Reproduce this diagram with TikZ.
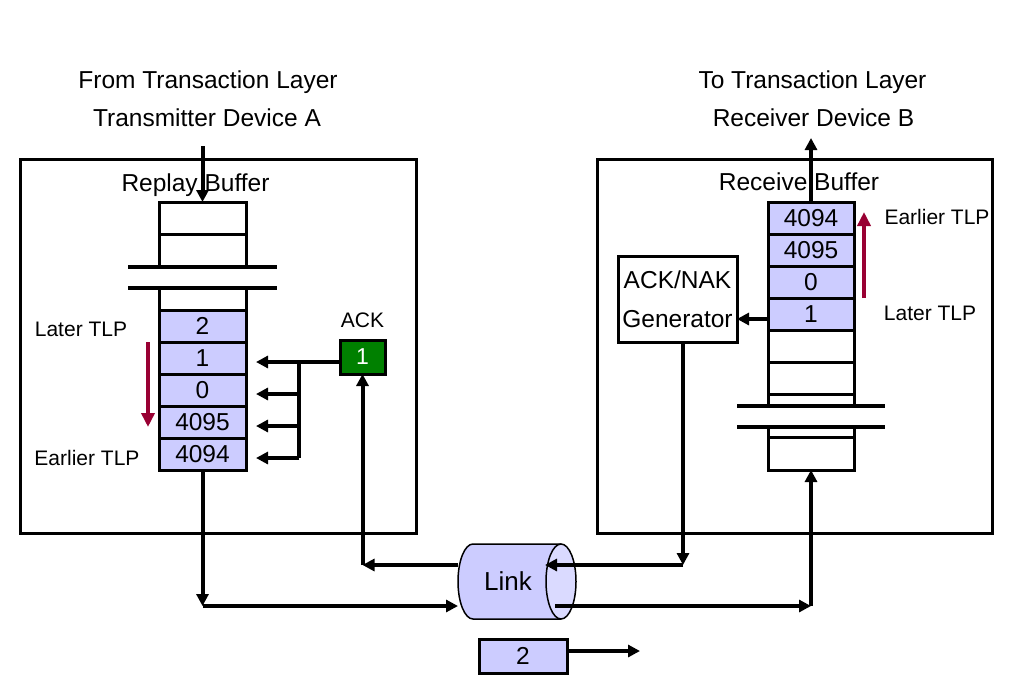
\documentclass[tikz,border=0pt]{standalone}
\usepackage{fontspec}
\setmainfont{Liberation Sans}
\usetikzlibrary{arrows.meta}
\definecolor{cellblue}{RGB}{204,204,255}
\definecolor{ackgreen}{RGB}{0,128,0}
\definecolor{tlpred}{RGB}{153,0,51}
\definecolor{linkend}{RGB}{218,218,255}
\begin{document}
\begin{tikzpicture}[x=1pt,y=-1pt,
  big/.style={font=\fontsize{24.5}{29}\selectfont},
  small/.style={font=\fontsize{21}{25}\selectfont},
  lbl/.style={inner sep=0pt,outer sep=0pt,text depth=0pt},
  cell/.style={draw,line width=3pt,minimum width=87pt,minimum height=32pt,inner sep=0pt,outer sep=0pt,big,text depth=0pt},
  bcell/.style={cell,fill=cellblue},
  frame/.style={draw,line width=3pt,inner sep=0pt,outer sep=0pt},
  conn/.style={line width=4pt,-{Triangle[length=12pt,width=12pt]}},
  wire/.style={line width=4pt},
  wall/.style={line width=3pt},
  brk/.style={line width=3.5pt},
  tlp/.style={line width=4.5pt,draw=tlpred,-{Triangle[length=14pt,width=13pt]}}
]
\useasboundingbox[fill=white] (0,0) rectangle (1024,696);

% titles
\node[lbl,big] (tA1) at (208,80) {From Transaction Layer};
\node[lbl,big] (tA2) at (207,118) {Transmitter Device A};
\node[lbl,big] (tB1) at (812.5,79.5) {To Transaction Layer};
\node[lbl,big] (tB2) at (813.5,117.5) {Receiver Device B};

% device frames
\node[frame,minimum width=396pt,minimum height=374pt] (devA) at (218,346) {};
\node[frame,minimum width=395pt,minimum height=374pt] (devB) at (794.5,346) {};

\node[lbl,big] (rplab) at (195.5,183) {Replay Buffer};
\node[lbl,big] (rcvlab) at (799,182) {Receive Buffer};

% ---------- replay buffer ----------
\node[cell] (e1) at (202.5,218) {};
\node[cell,minimum height=33pt] (e2) at (202.5,250.5) {};
\coordinate (bl1a) at (128,267); \coordinate (bl1b) at (277,267);
\coordinate (bl2a) at (128,288); \coordinate (bl2b) at (277,288);
\draw[brk] (bl1a) -- (bl1b);
\draw[brk] (bl2a) -- (bl2b);
\node[bcell] (c2) at (202.5,326) {2};
\node[bcell] (c1) at (202.5,358) {1};
\node[bcell] (c0) at (202.5,390) {0};
\node[bcell] (c4095) at (202.5,422) {4095};
\node[bcell] (c4094) at (202.5,454) {4094};
\draw[wall] (c2.north west) -- (c2.north west |- bl2a);
\draw[wall] (c2.north east) -- (c2.north east |- bl2a);

\node[lbl,small] (laterA) at (81,329) {Later TLP};
\node[lbl,small] (earlierA) at (87,458) {Earlier TLP};
\coordinate (tlpA1) at (148,342); \coordinate (tlpA2) at (148,427);
\draw[tlp] (tlpA1) -- (tlpA2);

% ACK
\node[lbl,small] (acklab) at (362.5,320) {ACK};
\node[frame,fill=ackgreen,text=white,minimum width=45pt,minimum height=34pt,font=\fontsize{23}{27}\selectfont] (ack) at (362.5,357) {1};
\coordinate (j1) at (299,362);
\coordinate (j2) at (299,394);
\coordinate (j3) at (299,426);
\coordinate (j4) at (299,458);
\draw[wire] (ack.west |- j1) -- (j1);
\draw[wire] (j1) -- (j4);
\draw[conn,shorten >=10pt] (j1) -- (j1 -| c1.east);
\draw[conn,shorten >=10pt] (j2) -- (j2 -| c0.east);
\draw[conn,shorten >=10pt] (j3) -- (j3 -| c4095.east);
\draw[conn,shorten >=10pt] (j4) -- (j4 -| c4094.east);

% input arrow
\coordinate (inTop) at (202.5,146);
\draw[conn] (inTop) -- (e1.north);

% ---------- receive buffer ----------
\node[bcell,minimum width=86pt] (r4094) at (811,218) {4094};
\node[bcell,minimum width=86pt] (r4095) at (811,250) {4095};
\node[bcell,minimum width=86pt] (r0) at (811,282) {0};
\node[bcell,minimum width=86pt] (r1) at (811,314) {1};
\node[cell,minimum width=86pt] (re1) at (811,346) {};
\node[cell,minimum width=86pt] (re2) at (811,378) {};
\coordinate (br1a) at (737,406); \coordinate (br1b) at (885,406);
\coordinate (br2a) at (737,427); \coordinate (br2b) at (885,427);
\draw[wall] (re2.south west) -- (re2.south west |- br1a);
\draw[wall] (re2.south east) -- (re2.south east |- br1a);
\node[cell,minimum width=86pt,minimum height=33pt] (re3) at (811,453.5) {};
\draw[wall] (re3.north west) -- (re3.north west |- br2a);
\draw[wall] (re3.north east) -- (re3.north east |- br2a);
\draw[brk] (br1a) -- (br1b);
\draw[brk] (br2a) -- (br2b);

\node[lbl,small] (earlierB) at (937,217) {Earlier TLP};
\node[lbl,small] (laterB) at (930,313) {Later TLP};
\coordinate (tlpB1) at (864,298); \coordinate (tlpB2) at (864,212);
\draw[tlp] (tlpB1) -- (tlpB2);

% output arrow
\coordinate (outTop) at (811,138);
\draw[conn] (r4094.north) -- (outTop);

% ACK/NAK generator
\node[frame,minimum width=119pt,minimum height=86pt,align=center,font=\fontsize{24.5}{39}\selectfont] (gen) at (677.5,299) {ACK/NAK\\Generator};
\coordinate (g1) at (768,319);
\draw[conn] (g1) -- (g1 -| gen.east);

% ---------- link ----------
\fill[cellblue] (561,544) -- (473,544) arc[start angle=270,end angle=90,x radius=15,y radius=37.5]
  -- (561,619) arc[start angle=90,end angle=-90,x radius=15,y radius=37.5] -- cycle;
\draw[line width=1.5pt] (561,544) -- (473,544) arc[start angle=270,end angle=90,x radius=15,y radius=37.5] -- (561,619);
\draw[line width=1.5pt,fill=linkend] (561,581.5) ellipse[x radius=15,y radius=37.5];
\node[lbl,font=\fontsize{26}{30}\selectfont] (link) at (508,581) {Link};

\coordinate (linkLup) at (458,565);
\coordinate (linkLdn) at (458,606);
\coordinate (linkRup) at (545,565);
\coordinate (linkRdn) at (555,606);

\coordinate (cA) at (202.5,606);
\coordinate (cK) at (362.5,565);
\coordinate (cG) at (683,565);
\coordinate (cR) at (811,606);

\draw[conn] (c4094.south) -- (cA);
\draw[conn] (cA) -- (linkLdn);
\draw[conn] (linkLup) -- (cK);
\draw[conn] (cK) -- (ack.south);
\draw[conn] (gen.south -| cG) -- (cG);
\draw[conn] (cG) -- (linkRup);
\draw[conn] (linkRdn) -- (cR);
\draw[conn] (cR) -- (re3.south);

% packet 2
\node[bcell,minimum width=88pt,minimum height=34pt] (pkt) at (523,656) {2};
\coordinate (pktEnd) at (640,651);
\draw[conn] (pkt.east |- pktEnd) -- (pktEnd);
\end{tikzpicture}
\end{document}
